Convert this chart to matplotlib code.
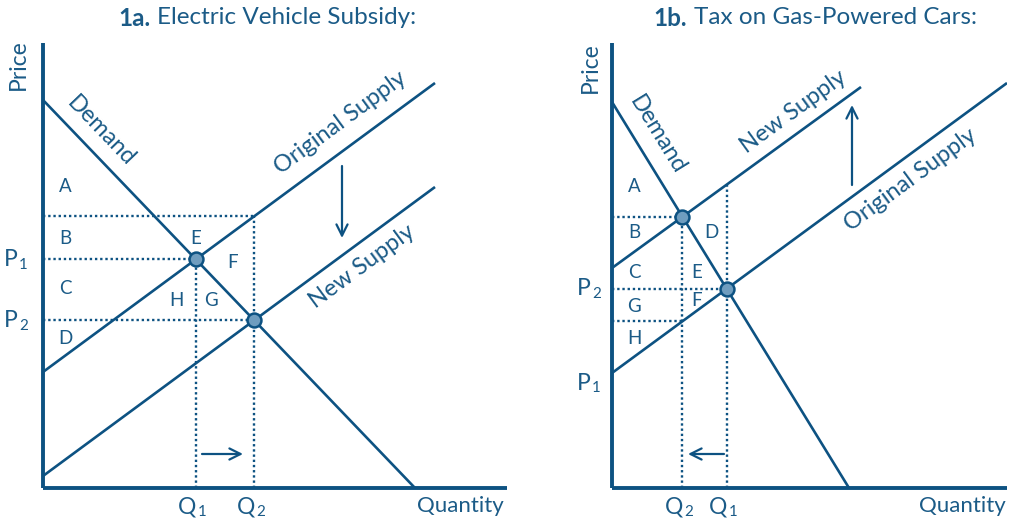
import numpy as np
import matplotlib.pyplot as plt

# Colours
DARK = '#0d5282'
TEXT = '#1b5b87'
DOT_FILL = '#6f9dbf'

plt.rcParams['font.family'] = ['Lato', 'DejaVu Sans']

# ---- data (price/quantity units) ----
# 1a: electric vehicle subsidy
a_demand_q = [0.0, 37.2]
a_demand_p = [38.8, 0.0]
a_orig_q = [0.0, 39.2]
a_orig_p = [11.6, 40.5]
a_new_q = [0.0, 39.2]
a_new_p = [1.2, 30.1]
a_letters = ['A', 'B', 'E', 'F', 'C', 'H', 'G', 'D']
a_letter_q = [2.2, 2.2, 15.3, 19.0, 2.2, 13.3, 16.8, 2.2]
a_letter_p = [30.1, 25.0, 25.0, 22.6, 20.0, 18.8, 18.8, 15.0]

# 1b: tax on gas-powered cars
b_demand_q = [0.0, 23.7]
b_demand_p = [38.6, 0.0]
b_orig_q = [0.0, 39.5]
b_orig_p = [11.5, 40.5]
b_new_q = [0.0, 24.9]
b_new_p = [22.0, 40.1]
b_letters = ['A', 'B', 'D', 'C', 'E', 'G', 'F', 'H']
b_letter_q = [2.2, 2.2, 9.9, 2.2, 8.5, 2.2, 8.5, 2.2]
b_letter_p = [30.1, 25.6, 25.6, 21.6, 21.6, 18.1, 18.8, 15.0]
b_p1_label = 10.5


def line_coef(q, p):
  slope = (p[1] - p[0]) / (q[1] - q[0])
  return slope, p[0] - slope * q[0]


def intersect(l1, l2):
  m1, c1 = line_coef(*l1)
  m2, c2 = line_coef(*l2)
  q = (c2 - c1) / (m1 - m2)
  return q, m1 * q + c1


def at(line, q):
  m, c = line_coef(*line)
  return m * q + c


def angle(line):
  # same scale on both axes, so data angle == screen angle
  m, _ = line_coef(*line)
  return np.degrees(np.arctan(m))


def setup_axes(fig, left_px, right_px, top_px, origin_y_px):
  W, H = 1013, 520
  ax = fig.add_axes([left_px / W, (H - origin_y_px) / H,
                     (right_px - left_px) / W, (origin_y_px - top_px) / H])
  ax.set_xlim(0, (right_px - left_px) / 10)
  ax.set_ylim(0, (origin_y_px - top_px) / 10)
  for s in ['top', 'right']:
    ax.spines[s].set_visible(False)
  for s in ['left', 'bottom']:
    ax.spines[s].set_linewidth(2.8)
    ax.spines[s].set_color(DARK)
    ax.spines[s].set_capstyle('butt')
  ax.set_xticks([])
  ax.set_yticks([])
  ax.patch.set_alpha(0)
  return ax


def hdot(ax, p, q0, q1):
  ax.plot([q0, q1], [p, p], color=DARK, lw=1.7, ls=(0, (1, 1.2)), dash_capstyle='butt')


def vdot(ax, q, p0, p1):
  ax.plot([q, q], [p0, p1], color=DARK, lw=1.7, ls=(0, (1, 1.2)), dash_capstyle='butt')


def arrow(ax, start, end):
  ax.annotate('', xy=end, xytext=start,
              arrowprops=dict(arrowstyle='->,head_length=0.8,head_width=0.4',
                              color=DARK, lw=1.6, shrinkA=0, shrinkB=0))


def txt(ax, x, y, s, size=15, rot=0):
  ax.text(x, y, s, fontsize=size, color=TEXT, rotation=rot,
          ha='center', va='center', rotation_mode='anchor', clip_on=False)


def sub_label(ax, x, y, main, sub, size=16.5):
  # main letter with a smaller, slightly lowered index
  ax.annotate(main, (x, y), xytext=(0.5, 0), textcoords='offset points',
              fontsize=size, color=TEXT, ha='right', va='center', annotation_clip=False)
  ax.annotate(sub, (x, y), xytext=(1.6, -3.8), textcoords='offset points',
              fontsize=size * 0.66, color=TEXT, ha='left', va='center', annotation_clip=False)


def title(fig, ax, x, y, bold, rest):
  t = ax.text(x, y, bold, fontsize=17.5, fontweight='bold', color=TEXT,
              ha='left', va='center', clip_on=False)
  r = fig.canvas.get_renderer()
  bb = t.get_window_extent(renderer=r)
  ax.annotate(rest, (bb.x1 + 7, (bb.y0 + bb.y1) / 2), xycoords='figure pixels',
              fontsize=17.5, color=TEXT, ha='left', va='center', annotation_clip=False)


fig = plt.figure(figsize=(10.13, 5.2), dpi=100)

# ---------------- 1a ----------------
ax = setup_axes(fig, 43, 507, 43, 488)
demand = (a_demand_q, a_demand_p)
orig = (a_orig_q, a_orig_p)
new = (a_new_q, a_new_p)
for l in (demand, orig, new):
  ax.plot(l[0], l[1], color=DARK, lw=1.9, solid_capstyle='butt')
q1, p1 = intersect(demand, orig)
q2, p2 = intersect(demand, new)
top = at(orig, q2)
hdot(ax, top, 0, q2)
vdot(ax, q2, 0, top)
hdot(ax, p1, 0, q1)
vdot(ax, q1, 0, p1)
hdot(ax, p2, 0, q2)
ax.plot([q1, q2], [p1, p2], 'o', ms=10, mfc=DOT_FILL, mec=DARK, mew=1.8, zorder=5)
arrow(ax, (29.9, 32.2), (29.9, 25.0))
arrow(ax, (15.9, 3.4), (20.0, 3.4))
for s, q, p in zip(a_letters, a_letter_q, a_letter_p):
  txt(ax, q, p, s, size=13.5)
sub_label(ax, -2.6, p1, 'P', '1')
sub_label(ax, -2.6, p2, 'P', '2')
sub_label(ax, q1, -1.9, 'Q', '1')
sub_label(ax, q2, -1.9, 'Q', '2')
txt(ax, 41.7, -1.8, 'Quantity', size=16)
txt(ax, -2.5, 42.3, 'Price', size=16.5, rot=90)
txt(ax, 5.8, 35.7, 'Demand', size=17, rot=angle(demand))
txt(ax, 29.7, 36.5, 'Original Supply', size=17, rot=angle(orig))
txt(ax, 31.9, 22.2, 'New Supply', size=17, rot=angle(new))
title(fig, ax, 7.5, 47.0, '1a.', 'Electric Vehicle Subsidy:')

# ---------------- 1b ----------------
ax = setup_axes(fig, 612, 1007, 43, 488)
demand = (b_demand_q, b_demand_p)
orig = (b_orig_q, b_orig_p)
new = (b_new_q, b_new_p)
for l in (demand, orig, new):
  ax.plot(l[0], l[1], color=DARK, lw=1.9, solid_capstyle='butt')
q2, p2 = intersect(demand, new)
q1, p1 = intersect(demand, orig)
hdot(ax, p2, 0, q2)
vdot(ax, q2, 0, p2)
hdot(ax, p1, 0, q1)
vdot(ax, q1, 0, at(new, q1))
hdot(ax, at(orig, q2), 0, q2)
ax.plot([q2, q1], [p2, p1], 'o', ms=10, mfc=DOT_FILL, mec=DARK, mew=1.8, zorder=5)
arrow(ax, (24.0, 30.3), (24.0, 38.3))
arrow(ax, (11.2, 3.4), (7.6, 3.4))
for s, q, p in zip(b_letters, b_letter_q, b_letter_p):
  txt(ax, q, p, s, size=13.5)
sub_label(ax, -2.2, p1, 'P', '2')
sub_label(ax, -2.2, b_p1_label, 'P', '1')
sub_label(ax, q2, -1.9, 'Q', '2')
sub_label(ax, q1, -1.9, 'Q', '1')
txt(ax, 35.0, -1.8, 'Quantity', size=16)
txt(ax, -2.2, 42.0, 'Price', size=16.5, rot=90)
txt(ax, 4.5, 35.3, 'Demand', size=17, rot=angle(demand))
txt(ax, 18.1, 37.6, 'New Supply', size=17, rot=angle(new))
txt(ax, 29.8, 30.8, 'Original Supply', size=17, rot=angle(orig))
title(fig, ax, 4.1, 47.0, '1b.', 'Tax on Gas-Powered Cars:')

fig.savefig('out.png', dpi=100)
